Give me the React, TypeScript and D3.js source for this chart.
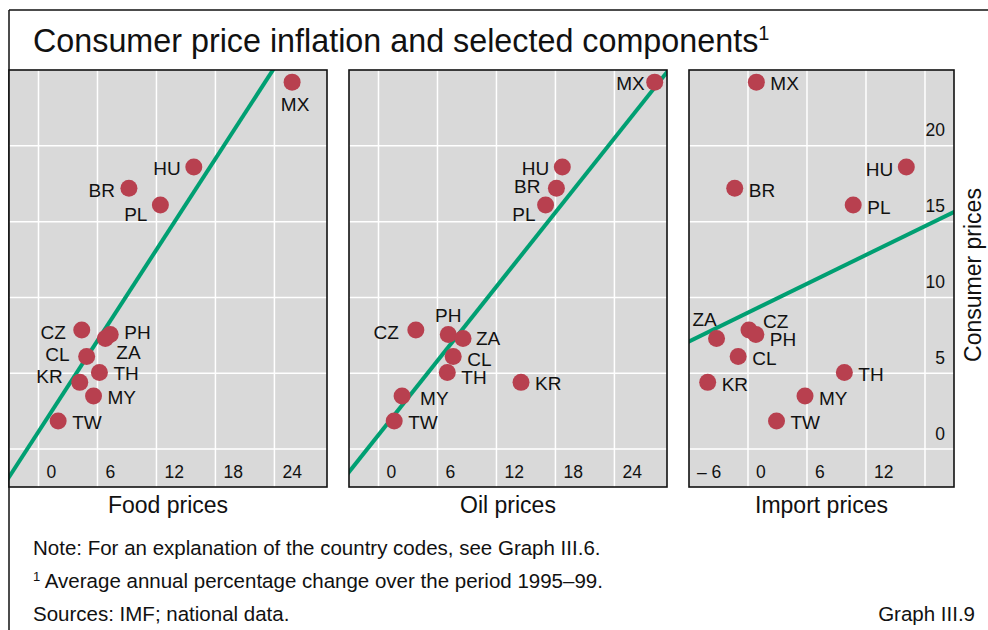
import * as d3 from "d3";
import * as React from "react";

// country codes, same order in every series
const countries = ["MX", "HU", "BR", "PL", "CZ", "PH", "ZA", "CL", "TH", "KR", "MY", "TW"];
const consumerPrices = [24.2, 18.6, 17.2, 16.1, 7.85, 7.55, 7.3, 6.1, 5.05, 4.4, 3.5, 1.85];
const foodPrices = [25.8, 15.8, 9.2, 12.4, 4.4, 7.3, 6.8, 4.9, 6.2, 4.2, 5.6, 2.0];
const oilPrices = [28.1, 18.7, 18.1, 17.0, 3.8, 7.1, 8.6, 7.6, 7.0, 14.5, 2.4, 1.6];
const importPrices = [0.85, 16.1, -1.35, 10.7, 0.1, 0.8, -3.2, -1.0, 9.8, -4.1, 5.8, 2.9];

const panelNames = ["Food prices", "Oil prices", "Import prices"];
const xGridValues = [[0, 6, 12, 18, 24], [0, 6, 12, 18, 24], [0, 6, 12, 18]];
const xTickLabels = [[0, 6, 12, 18, 24], [0, 6, 12, 18, 24], [-6, 0, 6, 12]];
const yTickValues = [0, 5, 10, 15, 20];
// fitted lines: consumer = intercept + slope * component
const fitIntercepts = [1.15, 0.94, 9.0];
const fitSlopes = [1.0, 0.815, 0.317];

const W = 988;
const H = 630;
const FONT = "'Liberation Sans', Arial, sans-serif";
const DOT = "#b8404f";
const LINE = "#009f72";
const BG = "#d9d9d9";
const INK = "#111";

// label placement per panel: [dx, dy, anchor]
type Place = [number, number, string];
const R: Place = [14, 1, "start"];
const placements: Record<string, Place>[] = [
  {
    MX: [3, 22, "middle"], HU: [-13, 1, "end"], BR: [-14, 2, "end"], PL: [-13, 9, "end"],
    CZ: [-16, 2, "end"], PH: [14, -2, "start"], ZA: [11, 14, "start"], CL: [-17, -2, "end"],
    TH: R, KR: [-17, -6, "end"], MY: R, TW: R,
  },
  {
    MX: [-10, 1, "end"], HU: [-13, 1, "end"], BR: [-16, -2, "end"], PL: [-10, 9, "end"],
    CZ: [-17, 2, "end"], PH: [0, -19, "middle"], ZA: [13, 0, "start"], CL: [14, 3, "start"],
    TH: [14, 5, "start"], KR: R, MY: [18, 2, "start"], TW: R,
  },
  {
    MX: R, HU: [-13, 2, "end"], BR: [14, 2, "start"], PL: [14, 2, "start"],
    CZ: [14, -9, "start"], PH: [14, 5, "start"], ZA: [-12, -19, "middle"], CL: [14, 2, "start"],
    TH: [14, 2, "start"], KR: [14, 2, "start"], MY: [14, 2, "start"], TW: R,
  },
];

const panels = [
  { left: 9, right: 327, domain: [-3, 29.35], values: foodPrices },
  { left: 349, right: 667, domain: [-3, 29.35], values: oilPrices },
  { left: 689, right: 954, domain: [-6, 20.95], values: importPrices },
];
const top = 70;
const bottom = 487;

const y = d3.scaleLinear().domain([-2.5, 25]).range([bottom, top]);

function Panel({ idx }: { idx: number }) {
  const p = panels[idx];
  const x = d3.scaleLinear().domain(p.domain).range([p.left, p.right]);
  const clipId = `clip${idx}`;
  const [x0, x1] = p.domain;
  const fit = d3
    .line<number>()
    .x((d) => x(d))
    .y((d) => y(fitIntercepts[idx] + fitSlopes[idx] * d));
  return (
    <g>
      <defs>
        <clipPath id={clipId}>
          <rect x={p.left} y={top} width={p.right - p.left} height={bottom - top} />
        </clipPath>
      </defs>
      <rect x={p.left} y={top} width={p.right - p.left} height={bottom - top} fill={BG} />
      {xGridValues[idx].map((v) => (
        <line key={"gx" + v} x1={x(v)} x2={x(v)} y1={top} y2={bottom} stroke="#fff" strokeWidth={1.5} />
      ))}
      {yTickValues.map((v) => (
        <line key={"gy" + v} x1={p.left} x2={p.right} y1={y(v)} y2={y(v)} stroke="#fff" strokeWidth={1.5} />
      ))}
      {xTickLabels[idx].map((v) => (
        <text key={"tx" + v} x={x(v) + 8} y={472} dy="0.35em" fontSize={17.5} fill={INK}>
          {v < 0 ? "\u2013 " + Math.abs(v) : v}
        </text>
      ))}
      {idx === 2 &&
        yTickValues.map((v) => (
          <text key={"ty" + v} x={945} y={y(v) - 15.5} dy="0.35em" textAnchor="end" fontSize={17.5} fill={INK}>
            {v}
          </text>
        ))}
      <path
        d={fit([x0 - 1, x1 + 1]) ?? ""}
        stroke={LINE}
        strokeWidth={4}
        fill="none"
        clipPath={`url(#${clipId})`}
      />
      {countries.map((c, i) => (
        <circle key={c} cx={x(p.values[i])} cy={y(consumerPrices[i])} r={8.5} fill={DOT} />
      ))}
      {countries.map((c, i) => {
        const [dx, dy, anchor] = placements[idx][c];
        return (
          <text
            key={"l" + c}
            x={x(p.values[i]) + dx}
            y={y(consumerPrices[i]) + dy}
            dy="0.35em"
            textAnchor={anchor}
            fontSize={19}
            fill={INK}
          >
            {c}
          </text>
        );
      })}
      <rect
        x={p.left}
        y={top}
        width={p.right - p.left}
        height={bottom - top}
        fill="none"
        stroke={INK}
        strokeWidth={1.6}
      />
      <text x={(p.left + p.right) / 2} y={513} textAnchor="middle" fontSize={23} fill={INK}>
        {panelNames[idx]}
      </text>
    </g>
  );
}

export default function App() {
  return (
    <svg
      width={W}
      height={H}
      style={{ position: "absolute", left: 0, top: 0, background: "#fff" }}
      fontFamily={FONT}
    >
      <line x1={9} x2={W} y1={10} y2={10} stroke={INK} strokeWidth={1.5} />
      <line x1={9} x2={9} y1={10} y2={H} stroke={INK} strokeWidth={1.5} />
      <text x={33} y={52} fontSize={32.3} fill={INK}>
        Consumer price inflation and selected components
        <tspan dy={-12} fontSize={20}>1</tspan>
      </text>
      {panels.map((_, i) => (
        <Panel key={i} idx={i} />
      ))}
      <text
        transform={`translate(973,275) rotate(-90)`}
        textAnchor="middle"
        dy="0.35em"
        fontSize={23}
        fill={INK}
      >
        Consumer prices
      </text>
      <g fontSize={20.5} fill={INK}>
        <text x={33} y={555}>Note: For an explanation of the country codes, see Graph III.6.</text>
        <text x={33} y={588}>
          <tspan fontSize={13} dy={-7}>1</tspan>
          <tspan dy={7}> Average annual percentage change over the period 1995–99.</tspan>
        </text>
        <text x={33} y={621}>Sources: IMF; national data.</text>
        <text x={975} y={621} textAnchor="end">Graph III.9</text>
      </g>
    </svg>
  );
}
